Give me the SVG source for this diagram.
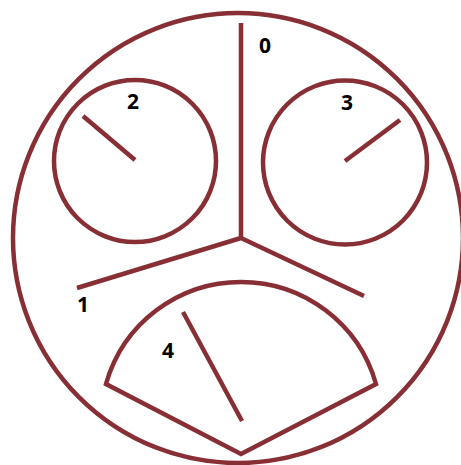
<svg xmlns="http://www.w3.org/2000/svg" width="461" height="465" viewBox="0 0 461 465">
<style>
.s{fill:none;stroke:#872F34;stroke-width:4.5;stroke-linecap:butt;stroke-linejoin:miter}
.t{font-family:"Open Sans","Liberation Sans",Arial,sans-serif;font-weight:bold;font-size:21px;fill:#000;text-anchor:middle}
</style>
<rect width="461" height="465" fill="#fff"/>
<g id="outer"><circle class="s" cx="238" cy="238" r="225"/></g>
<g id="connectors">
<path class="s" d="M241,23 L241,238 L77,288 M241,238 L364,296"/>
</g>
<g id="node2">
<circle class="s" cx="135" cy="161" r="81"/>
<line class="s" x1="83" y1="116" x2="135" y2="160"/>
<text class="t" x="133" y="109">2</text>
</g>
<g id="node3">
<circle class="s" cx="345" cy="162.5" r="82"/>
<line class="s" x1="400" y1="120" x2="345" y2="161"/>
<text class="t" x="347" y="110">3</text>
</g>
<g id="node4">
<path class="s" d="M106,384 A140.3,140.3 0 0 1 376,384 L241,454 Z"/>
<line class="s" x1="183" y1="312" x2="242" y2="421"/>
<text class="t" x="168" y="358">4</text>
</g>
<g id="labels">
<text class="t" x="265" y="53">0</text>
<text class="t" x="83" y="312">1</text>
</g>
</svg>
